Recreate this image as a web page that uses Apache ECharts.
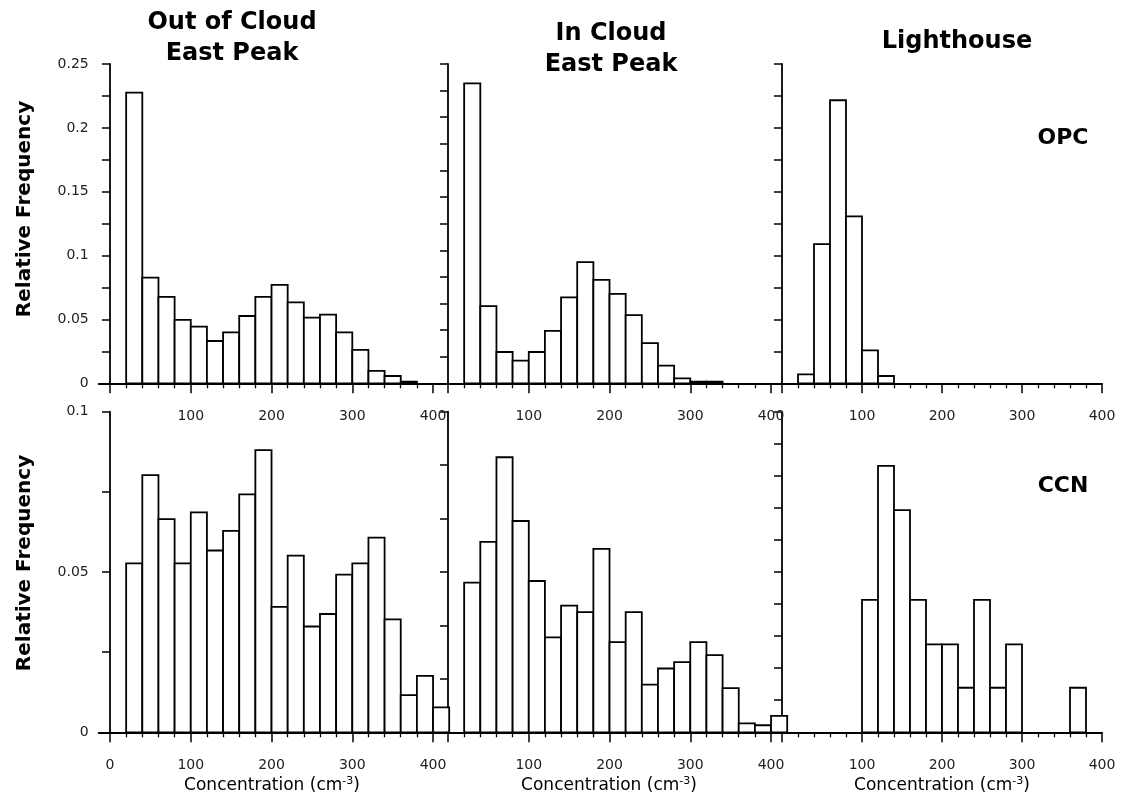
<!DOCTYPE html>
<html>
<head>
<meta charset="utf-8">
<script src="https://cdn.jsdelivr.net/npm/echarts@6/dist/echarts.min.js"></script>
<style>
html,body{margin:0;padding:0;background:#fff;}
#chart{width:1123px;height:807px;}
</style>
</head>
<body>
<div id="chart"></div>
<script>
// ---- data (bin edges in cm^-3, relative frequencies) ----
const binStart = [20,40,60,80,100,120,140,160,180,200,220,240,260,280,300,320,340,360,380,400];
const binEnd   = [40,60,80,100,120,140,160,180,200,220,240,260,280,300,320,340,360,380,400,420];

const outCloudOPC = [0.2276,0.0827,0.0676,0.0496,0.0444,0.0331,0.0399,0.0527,0.0676,0.0770,0.0634,0.0514,0.0538,0.0399,0.0261,0.0097,0.0057,0.0013];
const inCloudOPC  = [0.2349,0.0604,0.0245,0.0177,0.0245,0.0411,0.0672,0.0948,0.0810,0.0700,0.0534,0.0315,0.0138,0.0039,0.0013,0.0013];
const lighthouseOPC = [0.0070,0.1089,0.2216,0.1307,0.0258,0.0057];

const outCloudCCN = [0.0527,0.0802,0.0665,0.0527,0.0686,0.0567,0.0628,0.0742,0.0880,0.0391,0.0551,0.0330,0.0369,0.0492,0.0527,0.0607,0.0352,0.0116,0.0176,0.0078];
const inCloudCCN  = [0.0467,0.0594,0.0858,0.0659,0.0472,0.0296,0.0395,0.0375,0.0572,0.0281,0.0375,0.0149,0.0199,0.0219,0.0281,0.0241,0.0138,0.0028,0.0022,0.0051];
const lighthouseCCN = [0,0,0,0,0.0413,0.0831,0.0693,0.0413,0.0274,0.0274,0.0139,0.0413,0.0139,0.0274,0,0,0,0.0139];

const majorTicks = [0,100,200,300,400];
const minorTicks = [20,40,60,80,120,140,160,180,220,240,260,280,320,340,360,380];
const xLabelsTop = [100,200,300,400];
const xLabelsBottomFirst = [0,100,200,300,400];
const yLabelsOPC = [0,0.05,0.1,0.15,0.2,0.25];
const yLabelsCCN = [0,0.05,0.1];

const colTitles = ['Out of Cloud\nEast Peak','In Cloud\nEast Peak','Lighthouse'];
const rowTags = ['OPC','CCN'];
const xName = 'Concentration (cm';
const yName = 'Relative Frequency';

// ---- layout ----
const FONT = '"DejaVu Sans", sans-serif';
const cols = [
  {left:98.7, width:350.5, min:-14, max:420},
  {left:448,  width:339.2, min:0,   max:420},
  {left:782,  width:320,   min:0,   max:400}
];
const rows = [
  {top:64,    height:319.3, max:0.25, intervals:[0.025, 0.25/12, 0.025], labels:yLabelsOPC, data:[outCloudOPC,inCloudOPC,lighthouseOPC]},
  {top:411.7, height:320.6, max:0.1,  intervals:[0.025, 0.1/6, 0.01],    labels:yLabelsCCN, data:[outCloudCCN,inCloudCCN,lighthouseCCN]}
];

const grid=[], xAxis=[], yAxis=[], series=[];
const black = '#000';
rows.forEach((r,ri)=>{
  cols.forEach((c,ci)=>{
    const g = grid.length;
    grid.push({left:c.left, top:r.top, width:c.width, height:r.height, containLabel:false});
    const mainX = xAxis.length;
    let lbls = xLabelsTop;
    if (ri===1 && ci===0) lbls = xLabelsBottomFirst;
    xAxis.push({
      type:'value', gridIndex:g, position:'bottom', min:c.min, max:c.max,
      axisLine:{show:true, onZero:false, lineStyle:{color:black, width:1.8}},
      axisTick:{show:true, length:10, customValues:majorTicks, lineStyle:{color:black, width:1.5}},
      axisLabel:{show:true, customValues:lbls, margin:26, fontSize:14, color:'#222', fontFamily:FONT},
      splitLine:{show:false}
    });
    xAxis.push({
      type:'value', gridIndex:g, position:'bottom', min:c.min, max:c.max,
      axisLine:{show:false, onZero:false},
      axisTick:{show:true, length:5, customValues:minorTicks, lineStyle:{color:black, width:1.3}},
      axisLabel:{show:false},
      splitLine:{show:false}
    });
    const yi = yAxis.length;
    yAxis.push({
      type:'value', gridIndex:g, min:0, max:r.max, interval:r.intervals[ci],
      axisLine:{show:true, onZero:true, onZeroAxisIndex:mainX, lineStyle:{color:black, width:1.8}},
      axisTick:{show:true, length:8, lineStyle:{color:black, width:1.5}},
      axisLabel:{show:ci===0, customValues:r.labels, margin:10, fontSize:14, color:'#222', fontFamily:FONT},
      splitLine:{show:false}
    });
    const vals = r.data[ci];
    const d = [];
    vals.forEach((v,i)=>{ d.push([binStart[i], binEnd[i], v]); });
    series.push({
      type:'custom', xAxisIndex:mainX, yAxisIndex:yi, clip:false,
      encode:{x:[0,1], y:2},
      data:d,
      renderItem:function(params, api){
        const v = api.value(2);
        if (!v) return null;
        const p0 = api.coord([api.value(0), v]);
        const p1 = api.coord([api.value(1), 0]);
        return {type:'rect', shape:{x:p0[0], y:p0[1], width:p1[0]-p0[0], height:p1[1]-p0[1]},
                style:{fill:'#fff', stroke:black, lineWidth:1.8}};
      }
    });
  });
});

function txt(x,y,text,size,weight,rot){
  return {type:'text', x:x, y:y, rotation:rot||0, z:100,
    style:{text:text, fontSize:size, fontWeight:weight, fontFamily:FONT, fill:'#000',
      align:'center', verticalAlign:'middle', textAlign:'center', textVerticalAlign:'middle', lineHeight:Math.round(size*1.3)}};
}
const graphic = [
  txt(232, 38, colTitles[0], 24, 'bold'),
  txt(611, 49, colTitles[1], 24, 'bold'),
  txt(957, 42, colTitles[2], 24, 'bold'),
  txt(1063, 138, rowTags[0], 22, 'bold'),
  txt(1063, 486, rowTags[1], 22, 'bold'),
  txt(25, 209, yName, 20, 'bold', Math.PI/2),
  txt(25, 563, yName, 20, 'bold', Math.PI/2)
];
const xCenters = [272, 609, 942];
xCenters.forEach(cx=>{
  graphic.push({type:'text', x:cx, y:786, z:100,
    style:{text:'{a|'+xName+'}{s|-3}{a|)}', align:'center', verticalAlign:'middle', textAlign:'center', textVerticalAlign:'middle',
      fill:'#000', fontFamily:FONT, fontSize:17,
      rich:{a:{fontSize:17, fontFamily:FONT, fill:'#000', color:'#000'},
            s:{fontSize:11, fontFamily:FONT, fill:'#000', color:'#000', verticalAlign:'bottom', padding:[0,0,10,0]}}}});
});

const chart = echarts.init(document.getElementById('chart'), null, {renderer:'canvas'});
chart.setOption({animation:false, backgroundColor:'#fff', grid, xAxis, yAxis, series, graphic});
</script>
</body>
</html>
